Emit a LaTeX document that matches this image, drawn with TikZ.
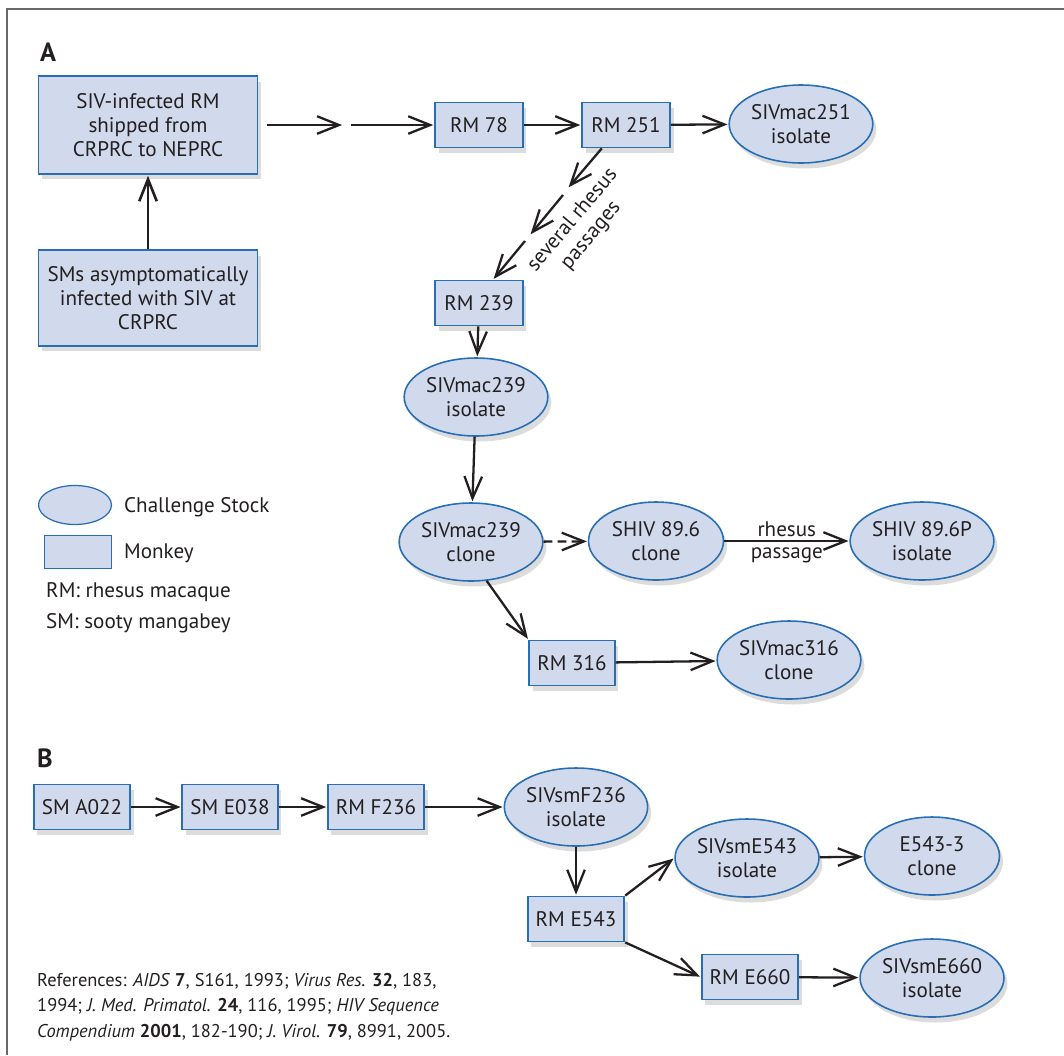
\documentclass[tikz,border=0pt]{standalone}
\usepackage{fontspec}
\setmainfont{PT Sans}
\usetikzlibrary{arrows.meta,shapes.geometric,shadows}

\definecolor{boxfill}{RGB}{208,218,236}
\definecolor{boxline}{RGB}{40,110,180}
\definecolor{ink}{RGB}{35,31,32}
\definecolor{framegray}{RGB}{105,105,105}

\tikzset{
  softshadow/.style={drop shadow={opacity=0.28, shadow xshift=0.07cm, shadow yshift=-0.11cm}},
  monkey/.style={draw=boxline, fill=boxfill, line width=1pt, align=center,
    minimum height=0.9cm, inner xsep=0.16cm, softshadow},
  stock/.style={ellipse, draw=boxline, fill=boxfill, line width=0.9pt, align=center,
    minimum width=2.7cm, minimum height=1.56cm, inner sep=0.5pt, softshadow},
  hop/.style={draw=ink, line width=1.3pt, -{Straight Barb[length=12.5pt,width=10pt]},
    shorten >=0.5pt},
  panel/.style={font=\fontsize{15}{17}\selectfont\bfseries, text=ink},
}

\begin{document}
\begin{tikzpicture}[x=0.02cm, y=0.02cm, font=\fontsize{12}{13.6}\selectfont, text=ink]
    \useasboundingbox (0,0) rectangle (1064,-1055);
    \draw[framegray, line width=1.2pt] (7,-1055) -- (7,-9) -- (1064,-9);

    % part A
    \node[panel] (labA) at (48,-52) {A};
    \node[monkey, minimum width=4.38cm, minimum height=1.96cm] (ship) at (148,-125)
        {SIV-infected RM\\ shipped from\\ CRPRC to NEPRC};
    \node[monkey, minimum width=4.38cm, minimum height=1.92cm] (sms) at (148,-298)
        {SMs asymptomatically\\ infected with SIV at\\ CRPRC};
    \node[monkey, minimum width=1.76cm] (rm78) at (479,-125) {RM 78};
    \node[monkey, minimum width=1.76cm] (rm251) at (626,-125) {RM 251};
    \node[stock] (mac251) at (801,-124) {SIVmac251\\ isolate};
    \node[monkey, minimum width=1.76cm] (rm239) at (479,-303) {RM 239};
    \node[stock] (iso239) at (476,-397) {SIVmac239\\ isolate};
    \node[stock] (clone239) at (471,-542) {SIVmac239\\ clone};
    \node[stock] (shiv) at (656,-541) {SHIV 89.6\\ clone};
    \node[stock] (shivp) at (922,-541) {SHIV 89.6P\\ isolate};
    \node[monkey] (rm316) at (572,-663) {RM 316};
    \node[stock] (mac316) at (789,-660) {SIVmac316\\ clone};

    \coordinate (cut1) at (343,-125);
    \coordinate (cut2) at (351,-125);
    \coordinate (p1) at (568,-188);
    \coordinate (p2) at (563,-195);
    \coordinate (p3) at (530,-235);
    \coordinate (p4) at (525,-241);

    \draw[hop, line width=1.5pt] (sms) -- (ship);
    \draw[hop, shorten <=5pt] (ship) -- (cut1);
    \draw[hop] (cut2) -- (rm78);
    \draw[hop] (rm78) -- (rm251);
    \draw[hop] (rm251) -- (mac251);
    \draw[hop] (rm251.-136) -- (p1);
    \draw[hop] (p2) -- (p3);
    \draw[hop] (p4) -- (rm239.59);
    \node[rotate=50, align=center] (sev) at (582,-228) {several rhesus\\ passages};
    \draw[hop] (rm239) -- (iso239);
    \draw[hop] (iso239) -- (clone239);
    \draw[hop, dash pattern=on 5pt off 3pt] (clone239) -- (shiv);
    \draw[hop] (shiv) -- (shivp)
        node[midway, above, inner sep=2pt] (rh) {rhesus}
        node[midway, below, inner sep=3pt] (pas) {passage};
    \draw[hop] (clone239.-68) -- (rm316.north west);
    \draw[hop] (rm316) -- (mac316);

    % legend
    \node[ellipse, draw=boxline, fill=boxfill, line width=0.7pt, minimum width=1.46cm,
        minimum height=0.78cm] (keystock) at (75,-505) {};
    \node[anchor=west] (keystocktxt) at (118,-507) {Challenge Stock};
    \node[draw=boxline, fill=boxfill, line width=0.7pt, minimum width=1.34cm,
        minimum height=0.66cm] (keymonkey) at (78,-552) {};
    \node[anchor=west] (keymonkeytxt) at (118,-553) {Monkey};
    \node[anchor=west] (keyrm) at (40,-592) {RM: rhesus macaque};
    \node[anchor=west] (keysm) at (40,-623) {SM: sooty mangabey};

    % part B
    \node[panel] (labB) at (45,-758) {B};
    \node[monkey] (a022) at (82,-807) {SM A022};
    \node[monkey] (e038) at (230,-807) {SM E038};
    \node[monkey] (f236) at (376,-807) {RM F236};
    \node[stock] (smf236) at (576,-807) {SIVsmF236\\ isolate};
    \node[monkey] (e543) at (576,-919) {RM E543};
    \node[stock] (sme543) at (747,-858) {SIVsmE543\\ isolate};
    \node[stock] (e5433) at (932,-856) {E543-3\\ clone};
    \node[monkey] (e660) at (750,-977) {RM E660};
    \node[stock] (sme660) at (932,-978) {SIVsmE660\\ isolate};

    \draw[hop] (a022) -- (e038);
    \draw[hop] (e038) -- (f236);
    \draw[hop] (f236) -- (smf236);
    \draw[hop] (smf236) -- (e543);
    \draw[hop] (e543.north east) -- (sme543.west);
    \draw[hop] (sme543) -- (e5433);
    \draw[hop] (e543.south east) -- (e660.west);
    \draw[hop] (e660) -- (sme660);

    \node[anchor=west, align=left, font=\fontsize{10.5}{14.5}\selectfont] (refs) at (31,-1007)
        {References: \textit{AIDS} \textbf{7}, S161, 1993; \textit{Virus Res.} \textbf{32}, 183,\\
         1994; \textit{J. Med. Primatol.} \textbf{24}, 116, 1995; \textit{HIV Sequence}\\
         \textit{Compendium} \textbf{2001}, 182-190; \textit{J. Virol.} \textbf{79}, 8991, 2005.};
\end{tikzpicture}
\end{document}
